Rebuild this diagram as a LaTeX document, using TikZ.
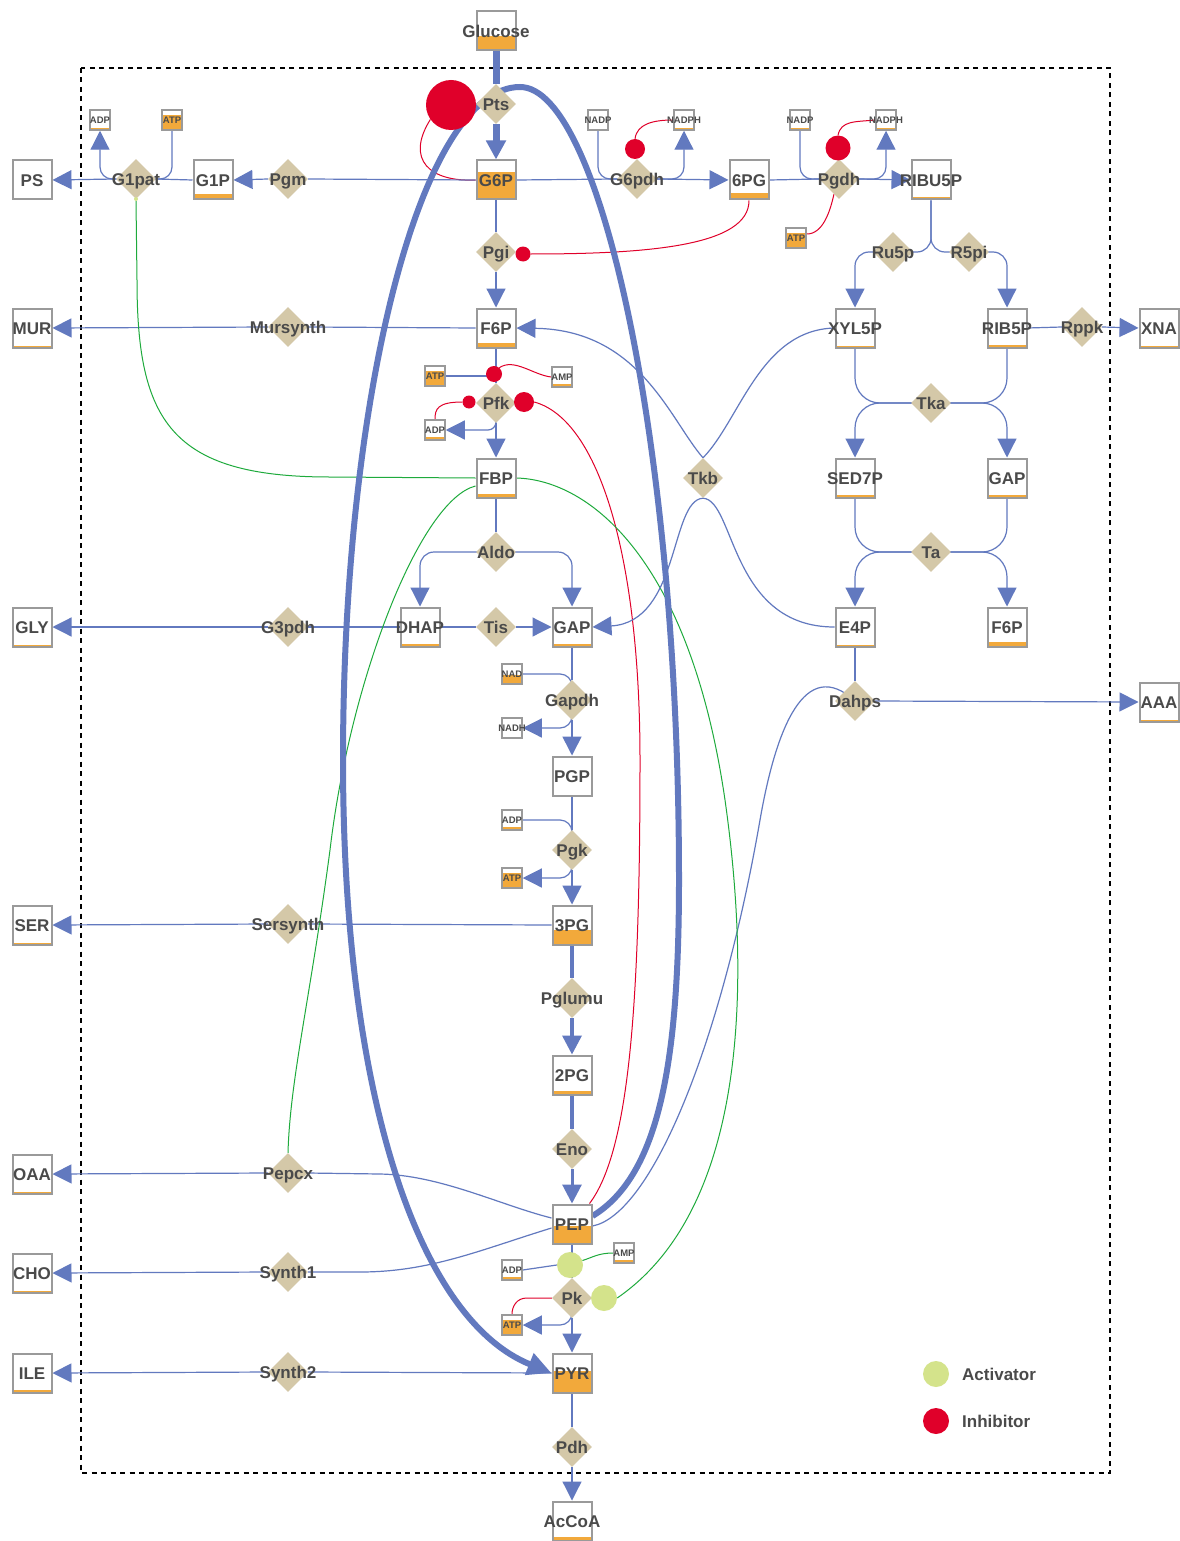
\documentclass[tikz,border=0pt]{standalone}
\usepackage{fontspec}
\setmainfont{Liberation Sans}
\usetikzlibrary{shapes.geometric,arrows.meta,calc}
\definecolor{fluxc}{HTML}{6279BF}
\definecolor{inhc}{HTML}{E0002A}
\definecolor{actc}{HTML}{D4E38B}
\definecolor{actl}{HTML}{1EAA3C}
\definecolor{orng}{HTML}{F2A93B}
\definecolor{boxg}{HTML}{9A9A9A}
\definecolor{tanc}{HTML}{D4C8A8}
\definecolor{txtc}{HTML}{4A4A4A}
\pgfdeclarelayer{bg}
\pgfsetlayers{bg,main}
\newcommand\mymet[5]{%
  \fill[white] (#2-19.5,#3-19.5) rectangle (#2+19.5,#3+19.5);
  \fill[orng] (#2-19.5,#3+19.5-#5) rectangle (#2+19.5,#3+19.5);
  \node[met] (#1) at (#2,#3) {\makebox[0pt]{#4}};}
\newcommand\mycof[5]{%
  \fill[white] (#2-10,#3-10) rectangle (#2+10,#3+10);
  \fill[orng] (#2-10,#3+10-#5) rectangle (#2+10,#3+10);
  \node[cof] (#1) at (#2,#3) {\makebox[0pt]{#4}};}
\newcommand\myrx[4]{%
  \node[rx] (#1) at (#2,#3) {};
  \node[rlab] at (#2,#3) {#4};}
\begin{document}
\begin{tikzpicture}[x=1pt,y=-1pt,
 met/.style={draw=boxg,line width=2pt,minimum size=39pt,inner sep=0pt,text height=12.2pt,text depth=0pt,font=\bfseries\fontsize{17pt}{17pt}\selectfont,text=txtc},
 cof/.style={draw=boxg,line width=1.5pt,minimum size=20pt,inner sep=0pt,text height=6.8pt,text depth=0pt,font=\bfseries\fontsize{9.5pt}{9.5pt}\selectfont,text=txtc},
 rx/.style={diamond,fill=tanc,minimum width=40pt,minimum height=40pt,inner sep=0pt},
 rlab/.style={inner sep=0pt,text height=12.2pt,text depth=0pt,font=\bfseries\fontsize{17pt}{17pt}\selectfont,text=txtc},
 flux/.style={draw=fluxc,line width=1.2pt},
 arr/.style={-{Triangle[length=19pt,width=19pt]}},
 inh/.style={draw=inhc,line width=1pt},
 act/.style={draw=actl,line width=1pt},
 inhdot/.style={circle,fill=inhc,inner sep=0pt},
 actdot/.style={circle,fill=actc,inner sep=0pt}]
\useasboundingbox (0,0) rectangle (1179,1541);

% metabolites
\mymet{Glucose}{496}{31}{Glucose}{14}
\mymet{GsixP}{496}{180}{G6P}{27}
\mymet{sixPG}{749}{180}{6PG}{6}
\mymet{RIBU}{931}{180}{RIBU5P}{2}
\mymet{GoneP}{213}{180}{G1P}{5}
\mymet{PS}{32}{180}{PS}{0}
\mymet{FsixP}{496}{328}{F6P}{5}
\mymet{MUR}{32}{328}{MUR}{1.5}
\mymet{XYL}{855}{328}{XYL5P}{1.5}
\mymet{RIB}{1007}{328}{RIB5P}{3}
\mymet{XNA}{1159}{328}{XNA}{1.5}
\mymet{FBP}{496}{478}{FBP}{4}
\mymet{SED}{855}{478}{SED7P}{3}
\mymet{GAPr}{1007}{478}{GAP}{3}
\mymet{DHAP}{420}{627}{DHAP}{3}
\mymet{GAP}{572}{627}{GAP}{3}
\mymet{EfourP}{855}{627}{E4P}{1.5}
\mymet{FsixPr}{1007}{627}{F6P}{5}
\mymet{GLY}{32}{627}{GLY}{1.5}
\mymet{AAA}{1159}{702}{AAA}{1.5}
\mymet{PGP}{572}{776}{PGP}{0.8}
\mymet{threePG}{572}{925}{3PG}{15}
\mymet{SER}{32}{925}{SER}{2}
\mymet{twoPG}{572}{1075}{2PG}{4}
\mymet{PEP}{572}{1224}{PEP}{18}
\mymet{OAA}{32}{1174}{OAA}{2}
\mymet{CHO}{32}{1273}{CHO}{2}
\mymet{ILE}{32}{1373}{ILE}{3}
\mymet{PYR}{572}{1373}{PYR}{22}
\mymet{AcCoA}{572}{1521}{AcCoA}{4}

% cofactors
\mycof{ADPa}{100}{120}{ADP}{2}
\mycof{ATPa}{172}{120}{ATP}{15}
\mycof{NADPa}{598}{120}{NADP}{0.5}
\mycof{NADPHa}{684}{120}{NADPH}{1.5}
\mycof{NADPb}{800}{120}{NADP}{1.5}
\mycof{NADPHb}{886}{120}{NADPH}{1.5}
\mycof{ATPb}{796}{238}{ATP}{15}
\mycof{ATPc}{435}{376}{ATP}{15}
\mycof{AMPa}{562}{377}{AMP}{3}
\mycof{ADPb}{435}{430}{ADP}{3}
\mycof{NAD}{512}{674}{NAD}{9}
\mycof{NADH}{512}{728}{NADH}{1.5}
\mycof{ADPc}{512}{820}{ADP}{3}
\mycof{ATPd}{512}{878}{ATP}{15}
\mycof{AMPb}{624}{1253}{AMP}{3}
\mycof{ADPd}{512}{1270}{ADP}{3}
\mycof{ATPe}{512}{1325}{ATP}{15}

% reactions
\myrx{Pts}{496}{104}{Pts}
\myrx{Gonepat}{136}{179}{G1pat}
\myrx{Pgm}{288}{179}{Pgm}
\myrx{Gsixpdh}{637}{179}{G6pdh}
\myrx{Pgdh}{839}{179}{Pgdh}
\myrx{Pgi}{496}{252}{Pgi}
\myrx{Rufivep}{893}{252}{Ru5p}
\myrx{Rfivepi}{969}{252}{R5pi}
\myrx{Mursynth}{288}{327}{Mursynth}
\myrx{Rppk}{1082}{327}{Rppk}
\myrx{Pfk}{496}{403}{Pfk}
\myrx{Tka}{931}{403}{Tka}
\myrx{Tkb}{703}{478}{Tkb}
\myrx{Aldo}{496}{552}{Aldo}
\myrx{Ta}{931}{552}{Ta}
\myrx{Gthreepdh}{288}{627}{G3pdh}
\myrx{Tis}{496}{627}{Tis}
\myrx{Gapdh}{572}{700}{Gapdh}
\myrx{Dahps}{855}{701}{Dahps}
\myrx{Pgk}{572}{850}{Pgk}
\myrx{Sersynth}{288}{924}{Sersynth}
\myrx{Pglumu}{572}{998}{Pglumu}
\myrx{Eno}{572}{1149}{Eno}
\myrx{Pepcx}{288}{1173}{Pepcx}
\myrx{Synthone}{288}{1272}{Synth1}
\myrx{Pk}{572}{1298}{Pk}
\myrx{Synthtwo}{288}{1372}{Synth2}
\myrx{Pdh}{572}{1447}{Pdh}

% modifier dots
\node[inhdot,minimum size=50pt] (inhPts) at (451,105) {};
\node[inhdot,minimum size=20pt] (inhGpdh) at (635,149) {};
\node[inhdot,minimum size=25pt] (inhPgdh) at (838,148) {};
\node[inhdot,minimum size=15pt] (inhPgi) at (523,254) {};
\node[inhdot,minimum size=16pt] (inhPfkA) at (494,374) {};
\node[inhdot,minimum size=13pt] (inhPfkB) at (469,402) {};
\node[inhdot,minimum size=20pt] (inhPfkC) at (524,402) {};
\node[actdot,minimum size=26pt] (actA) at (570,1265) {};
\node[actdot,minimum size=26pt] (actB) at (604,1298) {};
\node[actdot,minimum size=4pt] (actG) at (136,199) {};

% legend
\node[actdot,minimum size=26pt] (legA) at (936,1374) {};
\node[rlab,anchor=west] (legAt) at (962,1374) {Activator};
\node[inhdot,minimum size=26pt] (legI) at (936,1421) {};
\node[rlab,anchor=west] (legIt) at (962,1421) {Inhibitor};

\begin{pgfonlayer}{bg}
\fill[white] (0,0) rectangle (1179,1541);
\draw[dash pattern=on 5pt off 4.5pt,line width=2.2pt] (81,68) rectangle (1110,1473);

% upper glycolysis
\draw[flux,line width=7pt] (Glucose.south) -- (Pts.north);
\draw[flux,line width=7pt,arr] (Pts.south) -- (GsixP.north);
\draw[inh] (GsixP.west) .. controls (430,182) and (405,160) .. (inhPts.215);
\draw[flux] (GsixP.west) -- (Pgm.east);
\draw[flux,arr] (Pgm.west) -- (GoneP.east);
\draw[flux] (GoneP.west) -- (Gonepat.east);
\draw[flux,arr] (Gonepat.west) -- (PS.east);
\draw[flux,arr,rounded corners=12pt] (Gonepat.center) -| (ADPa.south);
\draw[flux,rounded corners=12pt] (ATPa.south) |- (Gonepat.center);

\draw[flux] (GsixP.east) -- (Gsixpdh.west);
\draw[flux,arr] (Gsixpdh.east) -- (sixPG.west);
\draw[flux,rounded corners=12pt] (NADPa.south) |- (Gsixpdh.center);
\draw[flux,arr,rounded corners=12pt] (Gsixpdh.center) -| (NADPHa.south);
\draw[inh] (inhGpdh.north) .. controls +(2,-15) and +(-20,0) .. (NADPHa.west);

\draw[flux] (sixPG.east) -- (Pgdh.west);
\draw[flux,arr] (Pgdh.east) -- (RIBU.west);
\draw[flux,rounded corners=12pt] (NADPb.south) |- (Pgdh.center);
\draw[flux,arr,rounded corners=12pt] (Pgdh.center) -| (NADPHb.south);
\draw[inh] (inhPgdh.north) .. controls +(3,-15) and +(-20,2) .. (NADPHb.west);
\draw[inh] ($(ATPb.east)+(0,-4)$) .. controls +(16,0) and +(-4,18) .. ($(Pgdh.center)+(-5,15)$);
\draw[inh] (sixPG.south) .. controls +(0,45) and +(120,0) .. (inhPgi.east);

\draw[flux] (GsixP.south) -- (Pgi.north);
\draw[flux,arr] (Pgi.south) -- (FsixP.north);
\draw[flux] (FsixP.west) -- (Mursynth.east);
\draw[flux,arr] (Mursynth.west) -- (MUR.east);

\draw[flux] (FsixP.south) -- (Pfk.north);
\draw[flux,arr] (Pfk.south) -- (FBP.north);
\draw[flux] (ATPc.east) -- (ATPc.east -| FsixP.south);
\draw[inh] (inhPfkA.50) .. controls +(15,-10) and +(-18,-2) .. (AMPa.west);
\draw[inh] (inhPfkB.west) .. controls +(-25,0) and +(0,-10) .. (ADPb.north);
\draw[flux,arr,rounded corners=8pt] (Pfk.center) |- (ADPb.east);
\draw[inh] (inhPfkC.east) .. controls (600,420) and (640,560) .. (640,760) .. controls (640,1000) and (630,1150) .. ($(PEP.north east)+(-3,0)$);

\draw[flux,line width=1.6pt] (FBP.south) -- (Aldo.north);
\draw[flux,arr,rounded corners=14pt] (Aldo.center) -| (DHAP.north);
\draw[flux,arr,rounded corners=14pt] (Aldo.center) -| (GAP.north);
\draw[flux] (DHAP.east) -- (Tis.west);
\draw[flux,arr] (Tis.east) -- (GAP.west);
\draw[flux] (DHAP.west) -- (Gthreepdh.east);
\draw[flux,arr] (Gthreepdh.west) -- (GLY.east);

% lower glycolysis
\draw[flux,line width=1.6pt] (GAP.south) -- (Gapdh.north);
\draw[flux,line width=1.6pt,arr] (Gapdh.south) -- (PGP.north);
\draw[flux,rounded corners=12pt] (NAD.east) -| (Gapdh.center);
\draw[flux,arr,rounded corners=12pt] (Gapdh.center) |- (NADH.east);
\draw[flux,line width=1.6pt] (PGP.south) -- (Pgk.north);
\draw[flux,line width=1.6pt,arr] (Pgk.south) -- (threePG.north);
\draw[flux,rounded corners=12pt] (ADPc.east) -| (Pgk.center);
\draw[flux,arr,rounded corners=12pt] (Pgk.center) |- (ATPd.east);
\draw[flux] (threePG.west) -- (Sersynth.east);
\draw[flux,arr] (Sersynth.west) -- (SER.east);
\draw[flux,line width=3.5pt] (threePG.south) -- (Pglumu.north);
\draw[flux,line width=3.5pt,arr] (Pglumu.south) -- (twoPG.north);
\draw[flux,line width=3.5pt] (twoPG.south) -- (Eno.north);
\draw[flux,line width=3pt,arr] (Eno.south) -- (PEP.north);

\draw[flux] ($(PEP.west)+(0,-6)$) .. controls (500,1205) and (440,1175) .. (380,1174) -- (Pepcx.east);
\draw[flux,arr] (Pepcx.west) -- (OAA.east);
\draw[flux] ($(PEP.west)+(0,4)$) .. controls (480,1250) and (430,1272) .. (360,1272) -- (Synthone.east);
\draw[flux,arr] (Synthone.west) -- (CHO.east);
\draw[flux] ($(PEP.east)+(0,2)$) .. controls (650,1215) and (720,1050) .. (760,820) .. controls (776,728) and (805,655) .. (Dahps.center);
\draw[flux] (EfourP.south) -- (Dahps.north);
\draw[flux,arr] (Dahps.east) -- (AAA.west);

\draw[flux] (PEP.south) -- (Pk.north);
\draw[flux,arr] (Pk.south) -- (PYR.north);
\draw[flux] (ADPd.east) -- (actA.west);
\draw[act] (AMPb.west) .. controls +(-15,0) and +(10,-3) .. (actA.20);
\draw[inh] (Pk.west) -- ++(-25,0) .. controls +(-10,0) and +(0,-8) .. (ATPe.north);
\draw[flux,arr,rounded corners=12pt] (Pk.center) |- (ATPe.east);
\draw[act] (FBP.east) .. controls (590,480) and (690,560) .. (725,800) .. controls (752,990) and (745,1210) .. (actB.east);
\draw[act] (FBP.west) -- (330,477) .. controls (170,477) and (137,420) .. (137,280) -- (actG.south);
\draw[act] ($(FBP.west)+(0,8)$) .. controls (420,500) and (350,680) .. (330,850) .. controls (310,1000) and (290,1080) .. (Pepcx.north);

\draw[flux] (PYR.south) -- (Pdh.north);
\draw[flux,arr] (Pdh.south) -- (AcCoA.north);
\draw[flux] (PYR.west) -- (Synthtwo.east);
\draw[flux,arr] (Synthtwo.west) -- (ILE.east);

% pentose phosphate
\draw[flux,rounded corners=14pt] (RIBU.south) |- (Rufivep.center);
\draw[flux,rounded corners=14pt] (RIBU.south) |- (Rfivepi.center);
\draw[flux,arr,rounded corners=14pt] (Rufivep.center) -| (XYL.north);
\draw[flux,arr,rounded corners=14pt] (Rfivepi.center) -| (RIB.north);
\draw[flux] (RIB.east) -- (Rppk.west);
\draw[flux,arr] (Rppk.east) -- (XNA.west);
\draw[flux,rounded corners=25pt] (XYL.south) |- (Tka.center);
\draw[flux,rounded corners=25pt] (RIB.south) |- (Tka.center);
\draw[flux,arr,rounded corners=25pt] (Tka.center) -| (SED.north);
\draw[flux,arr,rounded corners=25pt] (Tka.center) -| (GAPr.north);
\draw[flux,rounded corners=25pt] (SED.south) |- (Ta.center);
\draw[flux,rounded corners=25pt] (GAPr.south) |- (Ta.center);
\draw[flux,arr,rounded corners=25pt] (Ta.center) -| (EfourP.north);
\draw[flux,arr,rounded corners=25pt] (Ta.center) -| (FsixPr.north);
\draw[flux,arr] (Tkb.north) .. controls (670,420) and (640,330) .. (FsixP.east);
\draw[flux] (Tkb.north) .. controls (740,420) and (760,330) .. (XYL.west);
\draw[flux,arr] (Tkb.south) .. controls (670,500) and (680,622) .. (GAP.east);
\draw[flux] (Tkb.south) .. controls (735,500) and (730,627) .. (EfourP.west);

% PTS flux
\draw[flux,line width=6pt,-{Triangle[length=24pt,width=22pt]}] ($(PEP.east)+(0,-8)$) .. controls (660,1175) and (679,1060) .. (679,880) .. controls (679,444) and (600,87) .. (520,87) .. controls (422,87) and (343,390) .. (343,760) .. controls (343,1100) and (420,1320) .. (PYR.west);
\end{pgfonlayer}
\end{tikzpicture}
\end{document}
